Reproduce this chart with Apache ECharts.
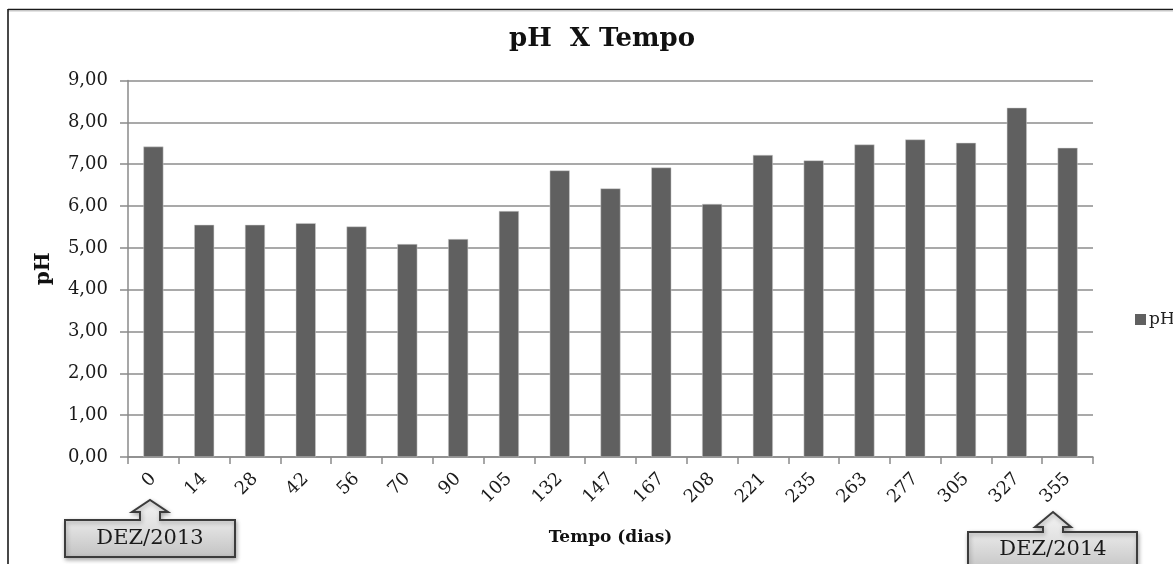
<!DOCTYPE html>
<html>
<head>
<meta charset="utf-8">
<script src="https://cdn.jsdelivr.net/npm/echarts@6/dist/echarts.min.js"></script>
<style>
html,body{margin:0;padding:0;background:#fff;}
#chart{width:1173px;height:564px;}
</style>
</head>
<body>
<div id="chart"></div>
<script>
var categories = ['0','14','28','42','56','70','90','105','132','147','167','208','221','235','263','277','305','327','355'];
var phValues = [7.42,5.55,5.55,5.59,5.51,5.09,5.21,5.88,6.85,6.42,6.92,6.05,7.22,7.09,7.47,7.59,7.51,8.35,7.39];
var seriesName = 'pH';
var titleText = 'pH  X Tempo';
var xAxisName = 'Tempo (dias)';
var yAxisName = 'pH';
var callout2013 = 'DEZ/2013';
var callout2014 = 'DEZ/2014';

var SERIF = '"DejaVu Serif", "Liberation Serif", serif';
var chart = echarts.init(document.getElementById('chart'), null, {renderer: 'canvas'});

function calloutShape(bx1, by1, bx2, by2, ax, tipY, headY, headHalf, shaftHalf) {
  return [
    [bx1, by1], [ax - shaftHalf, by1], [ax - shaftHalf, headY], [ax - headHalf, headY],
    [ax, tipY], [ax + headHalf, headY], [ax + shaftHalf, headY], [ax + shaftHalf, by1],
    [bx2, by1], [bx2, by2], [bx1, by2]
  ];
}
var boxFill = new echarts.graphic.LinearGradient(0, 0, 0, 1, [
  {offset: 0, color: '#f4f4f4'},
  {offset: 0.5, color: '#e0e0e0'},
  {offset: 1, color: '#c2c2c2'}
]);

var option = {
  backgroundColor: '#ffffff',
  animation: false,
  title: {
    text: titleText,
    left: 597,
    textAlign: 'center',
    top: 21,
    textStyle: {fontFamily: SERIF, fontWeight: 'bold', fontSize: 26, color: '#111'}
  },
  legend: {
    data: [seriesName],
    left: 1130,
    top: 306,
    icon: 'rect',
    itemWidth: 11,
    itemHeight: 11,
    itemStyle: {borderWidth: 0},
    textStyle: {fontFamily: SERIF, fontSize: 17, color: '#222', padding: [0,0,0,-2]}
  },
  grid: {left: 128, right: 80, top: 80.5, bottom: 107, containLabel: false},
  xAxis: {
    type: 'category',
    data: categories,
    name: xAxisName,
    nameLocation: 'middle',
    nameGap: 72,
    nameTextStyle: {fontFamily: SERIF, fontWeight: 'bold', fontSize: 17, color: '#111'},
    axisLine: {lineStyle: {color: '#8a8a8a', width: 1.5}},
    axisTick: {show: true, length: 7, alignWithLabel: false, lineStyle: {color: '#8a8a8a', width: 1.5}},
    axisLabel: {rotate: 45, margin: 19, interval: 0, fontFamily: SERIF, fontSize: 18, color: '#1a1a1a'},
    splitLine: {show: false}
  },
  yAxis: {
    type: 'value',
    min: 0,
    max: 9,
    interval: 1,
    name: yAxisName,
    nameLocation: 'middle',
    nameGap: 74,
    nameTextStyle: {fontFamily: SERIF, fontWeight: 'bold', fontSize: 20, color: '#111'},
    axisLine: {show: true, lineStyle: {color: '#8a8a8a', width: 1.5}},
    axisTick: {show: true, length: 8, lineStyle: {color: '#8a8a8a', width: 1.5}},
    axisLabel: {
      margin: 20,
      fontFamily: SERIF,
      fontSize: 18,
      color: '#1a1a1a',
      formatter: function (v) { return v.toFixed(2).replace('.', ','); }
    },
    splitLine: {show: true, lineStyle: {color: '#8c8c8c', width: 1.5}}
  },
  series: [{
    name: seriesName,
    type: 'bar',
    data: phValues,
    barWidth: 20,
    itemStyle: {color: '#606060', borderColor: '#d0d0d0', borderWidth: 0.5}
  }],
  graphic: [
    {type: 'line', shape: {x1: 8, y1: 9.5, x2: 1173, y2: 9.5}, style: {stroke: '#1a1a1a', lineWidth: 1.6}, silent: true},
    {type: 'line', shape: {x1: 8, y1: 11, x2: 1173, y2: 11}, style: {stroke: '#c8c8c8', lineWidth: 1}, silent: true},
    {type: 'line', shape: {x1: 8, y1: 9, x2: 8, y2: 564}, style: {stroke: '#1a1a1a', lineWidth: 1.6}, silent: true},
    {
      type: 'polygon',
      shape: {points: calloutShape(65, 520, 235, 557, 150, 500, 512, 18, 10)},
      style: {fill: boxFill, stroke: '#3c3c3c', lineWidth: 2, shadowColor: 'rgba(0,0,0,0.3)', shadowBlur: 4, shadowOffsetX: 1, shadowOffsetY: 2},
      silent: true
    },
    {
      type: 'text', x: 150, y: 539,
      style: {text: callout2013, fontFamily: SERIF, fontSize: 21, fill: '#1a1a1a', align: 'center', verticalAlign: 'middle'},
      silent: true
    },
    {
      type: 'polygon',
      shape: {points: calloutShape(968, 532, 1137, 572, 1053, 512, 527, 18, 10)},
      style: {fill: boxFill, stroke: '#3c3c3c', lineWidth: 2, shadowColor: 'rgba(0,0,0,0.3)', shadowBlur: 4, shadowOffsetX: 1, shadowOffsetY: 2},
      silent: true
    },
    {
      type: 'text', x: 1053, y: 550,
      style: {text: callout2014, fontFamily: SERIF, fontSize: 21, fill: '#1a1a1a', align: 'center', verticalAlign: 'middle'},
      silent: true
    }
  ]
};
chart.setOption(option);
</script>
</body>
</html>
